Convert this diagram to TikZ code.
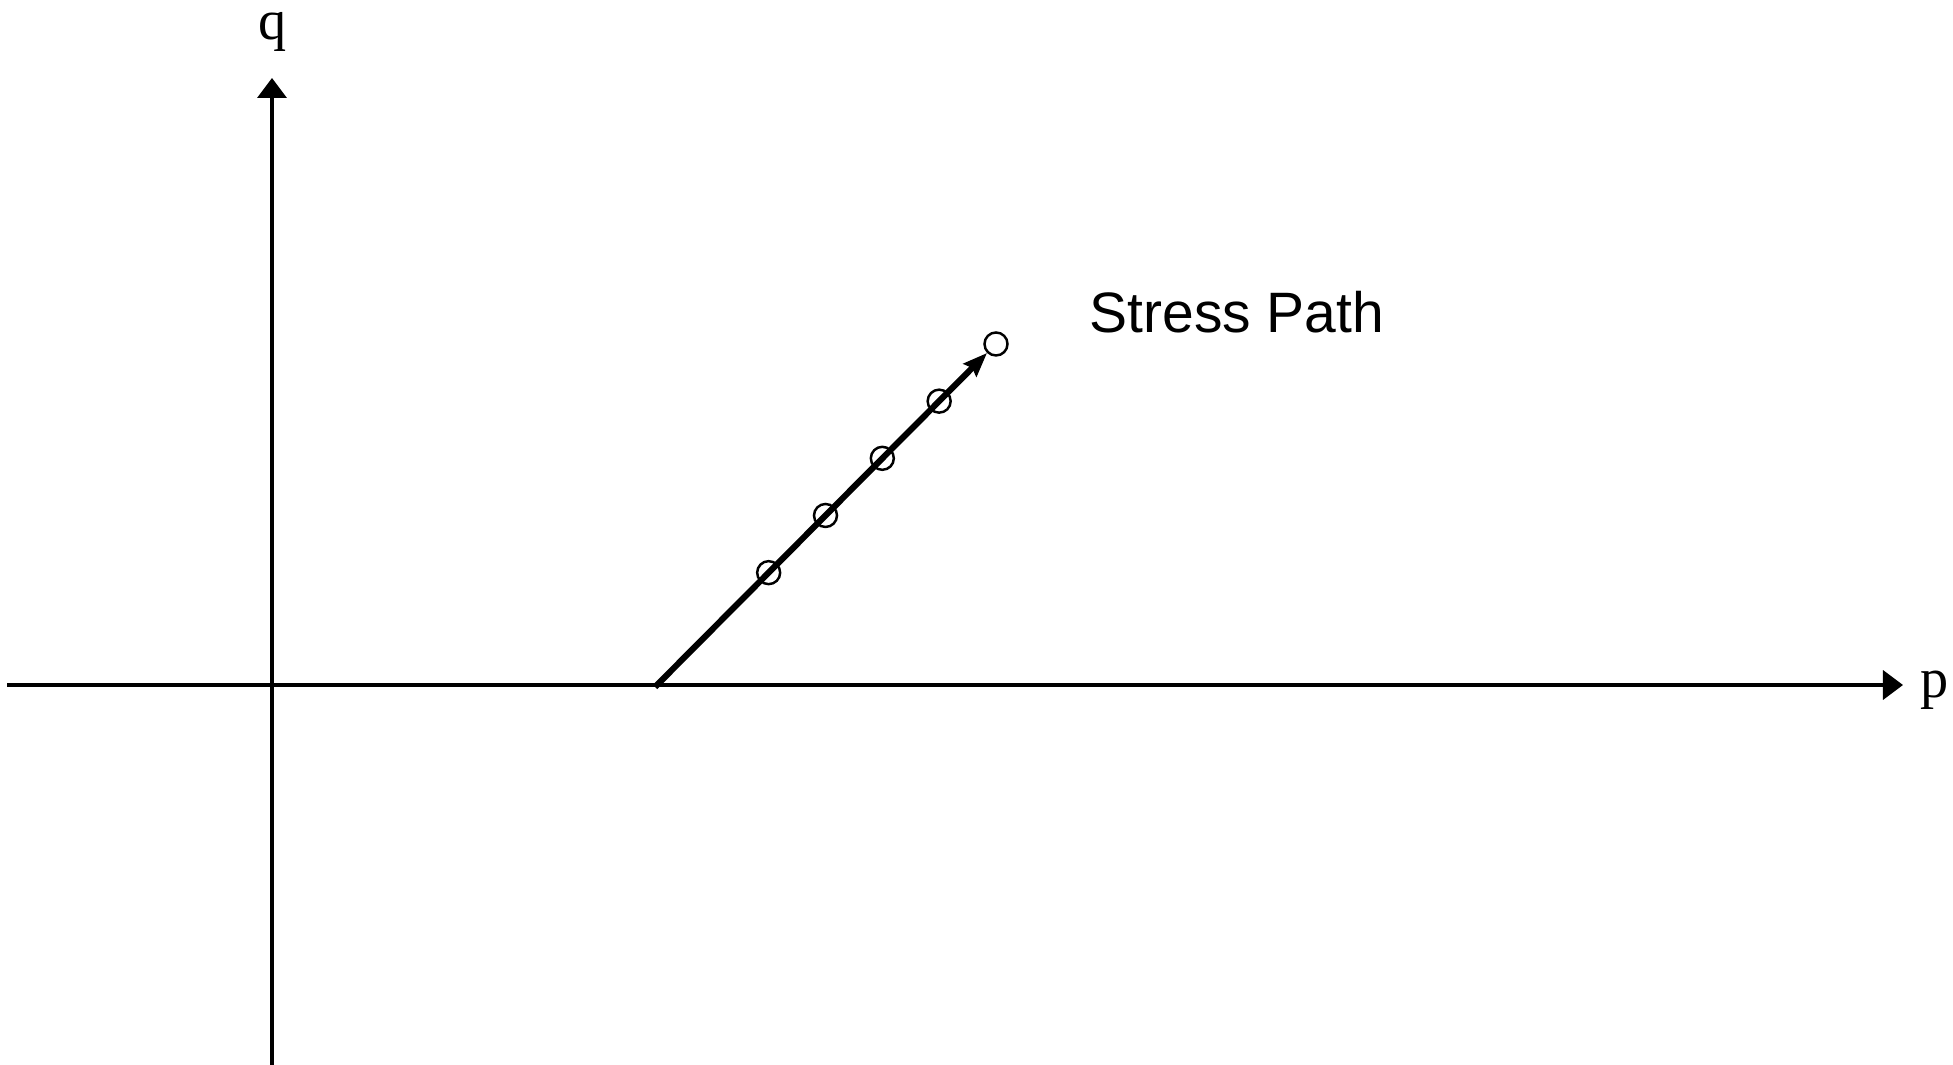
\documentclass[tikz,border=0pt]{standalone}
\usepackage{fontspec}
\setmainfont{Liberation Serif}
\setsansfont{Liberation Sans}
\usetikzlibrary{arrows.meta, positioning, calc}

\begin{document}
\begin{tikzpicture}[x=0.01cm, y=-0.01cm, >=Stealth,
    axis/.style={line width=1pt, -{Triangle[length=0.2cm, width=0.29cm]}},
    pathline/.style={line width=1.75pt, -{Stealth[length=0.24cm, width=0.18cm, inset=0.03cm]}},
    pt/.style={draw, circle, line width=0.7pt, minimum size=0.23cm, inner sep=0pt},
    lbl/.style={inner sep=0pt, font=\fontsize{16}{19}\selectfont}]
    \useasboundingbox (0,0) rectangle (1953,1065);

    % Trục tọa độ p-q
    \coordinate (pL) at (7,685);
    \coordinate (pR) at (1903,685);
    \coordinate (qB) at (272,1065);
    \coordinate (qT) at (272,78);
    \draw[axis] (pL) -- (pR);
    \draw[axis] (qB) -- (qT);
    \node[lbl, anchor=base west] (plbl) at (1920,698) {p};
    \node[lbl, anchor=base] (qlbl) at (273,40) {q};

    % Đường ứng suất
    \coordinate (s0) at (655,687);
    \foreach \i in {2,...,6}
        \node[pt] (s\i) at ($(s0)!\i/6!(996,344)$) {};
    \draw[pathline] (s0) -- (s6);
    \node[lbl, font=\sffamily\fontsize{16.2}{19}\selectfont, anchor=base west] (title) at (1089,333) {Stress Path};
\end{tikzpicture}
\end{document}
